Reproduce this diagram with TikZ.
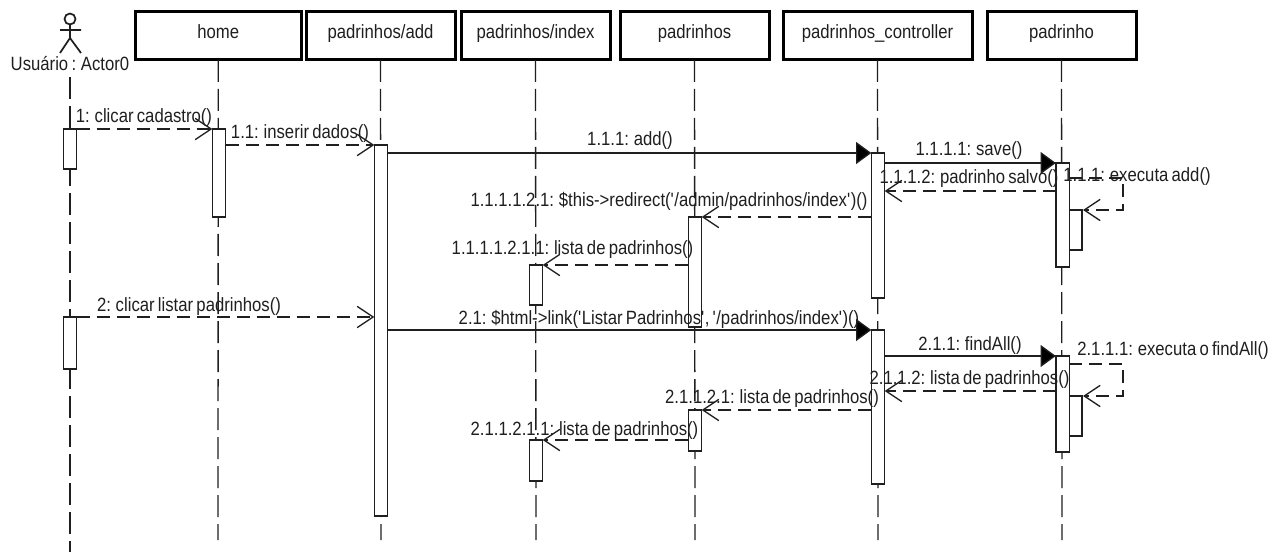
\documentclass[tikz,border=0pt]{standalone}
\usepackage{fontspec}
\setmainfont[FakeStretch=0.87,WordSpace=0.7]{Liberation Sans}
\usetikzlibrary{arrows.meta}
\definecolor{ink}{gray}{0.12}
\tikzset{
  x=0.75pt,y=-0.75pt,
  headbox/.style={draw=black,fill=white,line width=2.25pt,inner sep=0pt,outer sep=0pt,text height=6.75pt,text depth=3.25pt,text=ink},
  lifeln/.style={draw=ink,line width=1pt,dash pattern=on 16.5pt off 5.25pt},
  actbox/.style={draw=ink,fill=white,line width=1pt,inner sep=0pt,outer sep=0pt,minimum width=10pt},
  callmsg/.style={draw=ink,line width=1pt,-{Triangle[length=11.5pt,width=16.5pt,fill=black]}},
  retmsg/.style={draw=ink,line width=1pt,dash pattern=on 9.75pt off 5.25pt,-{Straight Barb[length=12pt,width=16pt]}},
  selfret/.style={draw=ink,line width=1pt,rounded corners=0pt},
  msglbl/.style={inner sep=0pt,outer sep=0pt,anchor=base,yshift=-0.75pt,text=ink,font=\fontsize{14.4pt}{15pt}\selectfont},
}
\begin{document}
\begin{tikzpicture}
\useasboundingbox (0,0) rectangle (1284,552);
\fill[white] (0,0) rectangle (1284,552);
\tikzset{every node/.append style={font=\fontsize{14.4pt}{15pt}\selectfont}}
% headers
\node[headbox,minimum width=165.5*0.75pt,minimum height=48.5*0.75pt] (home) at (218.25,35.75) {home};
\node[headbox,minimum width=149*0.75pt,minimum height=48.5*0.75pt] (add) at (380.5,35.75) {padrinhos/add};
\node[headbox,minimum width=149*0.75pt,minimum height=48.5*0.75pt] (index) at (535.5,35.75) {padrinhos/index};
\node[headbox,minimum width=149*0.75pt,minimum height=48.5*0.75pt] (pads) at (694.5,35.75) {padrinhos};
\node[headbox,minimum width=189*0.75pt,minimum height=48.5*0.75pt] (ctrl) at (877.5,35.75) {padrinhos\_controller};
\node[headbox,minimum width=149*0.75pt,minimum height=48.5*0.75pt] (model) at (1061.5,35.75) {padrinho};
% actor
\node[msglbl] (actorlbl) at (70,70) {Usuário : Actor0};
\draw[ink,line width=1.3pt] (70,19) circle (5.5);
\draw[ink,line width=1.3pt] (70,25) -- (70,39) (60,30) -- (81,30) (60,53) -- (70,38) -- (81,53);
% life lines
\coordinate (actorend) at (70,552);
\coordinate (homeend) at (218,540);
\coordinate (addend) at (381,540);
\coordinate (indexend) at (536,540);
\coordinate (padsend) at (695,540);
\coordinate (ctrlend) at (878,540);
\coordinate (modelend) at (1062,540);
\draw[lifeln] (70,77) -- (actorend);
\draw[lifeln] (home.south) -- (homeend);
\draw[lifeln] (add.south) -- (addend);
\draw[lifeln] (index.south) -- (indexend);
\draw[lifeln] (pads.south) -- (padsend);
\draw[lifeln] (ctrl.south) -- (ctrlend);
\draw[lifeln] (model.south) -- (modelend);
% activations
\node[actbox,minimum height=40*0.75pt] (A1) at (70,149) {};
\node[actbox,minimum height=52*0.75pt] (A2) at (70,343) {};
\node[actbox,minimum height=88*0.75pt] (H1) at (219,173) {};
\node[actbox,minimum height=371*0.75pt] (P1) at (381,330.5) {};
\node[actbox,minimum height=145*0.75pt] (C1) at (878,225.5) {};
\node[actbox,minimum height=154*0.75pt] (C2) at (878,407) {};
\node[actbox,minimum height=104*0.75pt] (M1) at (1062.5,215) {};
\node[actbox,minimum height=96*0.75pt] (M2) at (1062.5,404) {};
\node[actbox,minimum height=110*0.75pt] (S1) at (695,272) {};
\node[actbox,minimum height=41*0.75pt] (S2) at (695,430.5) {};
\node[actbox,minimum height=40*0.75pt] (I1) at (536,285) {};
\node[actbox,minimum height=41*0.75pt] (I2) at (536,460.5) {};
% messages
\draw[retmsg] (A1.north east) -- (H1.north west);
\node[msglbl] (m1) at (144,122) {1: clicar cadastro()};
\draw[retmsg] (H1.east |- 0,145) -- (P1.north west);
\node[msglbl] (m2) at (300,138) {1.1: inserir dados()};
\draw[callmsg] (P1.east |- 0,153) -- (C1.north west);
\node[msglbl] (m3) at (630,145) {1.1.1: add()};
\draw[callmsg] (C1.east |- 0,163) -- (M1.north west);
\node[msglbl] (m4) at (969,155) {1.1.1.1: save()};
\draw[retmsg] (M1.west |- 0,191) -- (C1.east |- 0,191);
\node[msglbl] (m5) at (969,183) {1.1.1.2: padrinho salvo()};
\draw[retmsg] (M1.east |- 0,178) -- (1123,178) -- (1123,210) -- (1083,210);
\draw[selfret] (M1.east |- 0,210) -- (1082,210) -- (1082,250) -- (M1.east |- 0,250);
\node[msglbl] (m6) at (1137,181) {1.1.1: executa add()};
\draw[retmsg] (C1.west |- 0,217) -- (S1.north east);
\node[msglbl] (m7) at (669,206) {1.1.1.1.2.1: \$this->redirect(\textquotesingle/admin/padrinhos/index\textquotesingle)()};
\draw[retmsg] (S1.west |- 0,265) -- (I1.north east);
\node[msglbl] (m8) at (572.5,254) {1.1.1.1.2.1.1: lista de padrinhos()};
\draw[retmsg] (A2.north east) -- (P1.west |- 0,317);
\node[msglbl] (m9) at (189,310) {2: clicar listar padrinhos()};
\draw[callmsg] (P1.east |- 0,330) -- (C2.north west);
\node[msglbl] (m10) at (659,323) {2.1: \$html->link(\textquotesingle Listar Padrinhos\textquotesingle, \textquotesingle/padrinhos/index\textquotesingle)()};
\draw[callmsg] (C2.east |- 0,356) -- (M2.north west);
\node[msglbl] (m11) at (970,349) {2.1.1: findAll()};
\draw[retmsg] (M2.east |- 0,364) -- (1123,364) -- (1123,396) -- (1083,396);
\draw[selfret] (M2.east |- 0,396) -- (1082,396) -- (1082,436) -- (M2.east |- 0,436);
\node[msglbl] (m12) at (1173,354) {2.1.1.1: executa o findAll()};
\draw[retmsg] (M2.west |- 0,391) -- (C2.east |- 0,391);
\node[msglbl] (m13) at (969.5,383) {2.1.1.2: lista de padrinhos()};
\draw[retmsg] (C2.west |- 0,410) -- (S2.north east);
\node[msglbl] (m14) at (772,402) {2.1.1.2.1: lista de padrinhos()};
\draw[retmsg] (S2.west |- 0,440) -- (I2.north east);
\node[msglbl] (m15) at (584.5,434) {2.1.1.2.1.1: lista de padrinhos()};
\end{tikzpicture}
\end{document}
